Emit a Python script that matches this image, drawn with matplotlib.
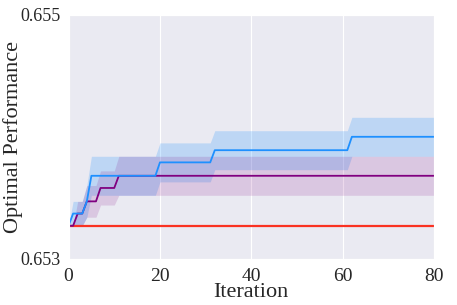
import matplotlib
matplotlib.use("Agg")
import matplotlib.pyplot as plt
import numpy as np
import seaborn as sns

sns.set_style("darkgrid")
plt.rcParams['font.family'] = ['Liberation Serif', 'DejaVu Serif']

iterations = np.arange(0, 81)

# mean curves (best found so far)
blue_steps = [(0, 0.65327), (1, 0.65337), (4, 0.65347), (5, 0.65368),
              (20, 0.65379), (32, 0.65389), (62, 0.65400)]
purple_steps = [(0, 0.65327), (2, 0.65337), (4, 0.65347), (7, 0.65358),
                (11, 0.65368)]
red_value = 0.65327

blue_std_steps = [(0, 0.0), (1, 0.0001), (4, 0.00013), (5, 0.00016)]
purple_std_steps = [(0, 0.0), (2, 0.0001), (4, 0.00013), (7, 0.00014),
                    (11, 0.00016)]


def expand(steps):
    out = np.zeros(len(iterations))
    for start, val in steps:
        out[iterations >= start] = val
    return out


blue_mean = expand(blue_steps)
purple_mean = expand(purple_steps)
blue_std = expand(blue_std_steps)
purple_std = expand(purple_std_steps)
red_mean = np.full(len(iterations), red_value)

fig = plt.figure(figsize=(4.57, 3.05), dpi=100)
ax = fig.add_axes([0.150, 0.152, 0.800, 0.799])

ax.fill_between(iterations, blue_mean - blue_std, blue_mean + blue_std,
                color='dodgerblue', alpha=0.22, lw=0)
ax.fill_between(iterations, purple_mean - purple_std, purple_mean + purple_std,
                color='purple', alpha=0.15, lw=0)
ax.plot(iterations, red_mean, color='#fa3222', lw=1.6)
ax.plot(iterations, purple_mean, color='purple', lw=1.3)
ax.plot(iterations, blue_mean, color='dodgerblue', lw=1.3)

ax.set_xlim(0, 80)
ax.set_ylim(0.653, 0.655)
ax.set_xticks([0, 20, 40, 60, 80])
ax.set_yticks([0.653, 0.655])
ax.set_yticklabels(['0.653', '0.655'])
ax.tick_params(axis='x', labelsize=14, pad=3)
ax.tick_params(axis='y', labelsize=13, pad=2)
ax.set_xlabel('Iteration', fontsize=16)
ax.set_ylabel('Optimal Performance', fontsize=16)
ax.xaxis.set_label_coords(0.5, -0.1)
ax.yaxis.set_label_coords(-0.125, 0.5)

fig.savefig('out.png', dpi=100)
